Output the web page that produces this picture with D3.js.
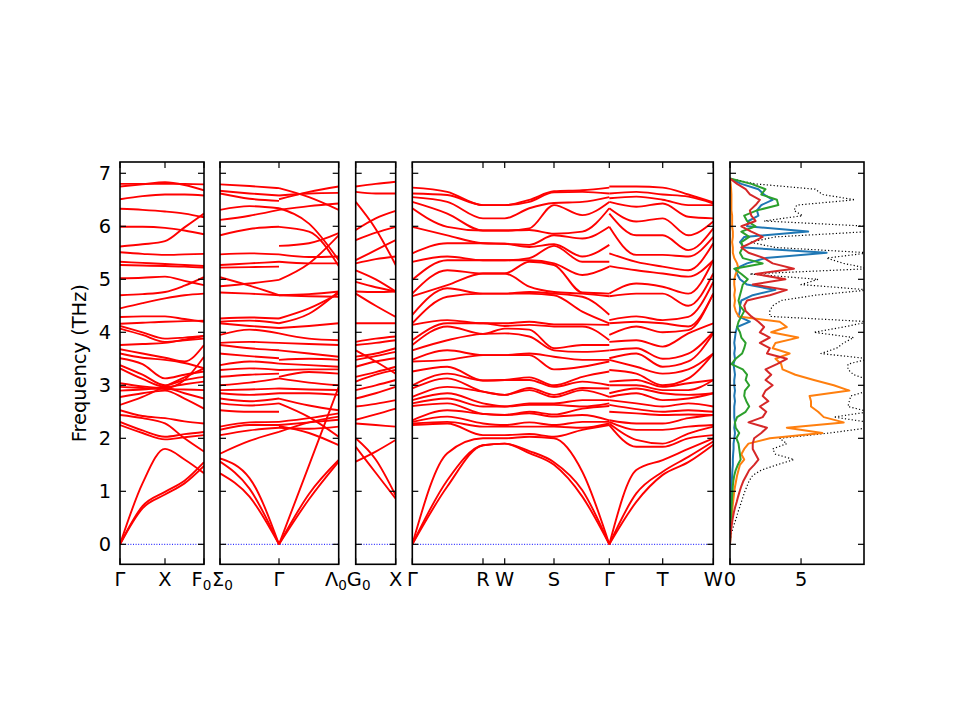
<!DOCTYPE html>
<html><head><meta charset="utf-8">
<script src="https://cdn.jsdelivr.net/npm/d3@7"></script>
<style>body{margin:0;background:#fff} text{font-family:"DejaVu Sans",sans-serif}</style>
</head><body><svg id="c" width="960" height="720"></svg>
<script>
// ---------------- DATA ----------------
const yTicks = [0,1,2,3,4,5,6,7];
const dosTicks = [0,5];
// panel 1 : Γ - X - F0   (path distance grid)
const p1Grid = [0, 22.5, 45, 64.5, 84];
const p1Labels = ["Γ","X","F_0"];
const p1LabelPos = [0,45,84];
const p1Bands = [
 [6.80,6.80,6.80,6.80,6.79],[6.75,6.79,6.83,6.78,6.68],[6.51,6.57,6.60,6.60,6.58],
 [6.33,6.31,6.28,6.24,6.17],[5.62,5.66,5.72,5.98,6.24],[5.99,5.99,5.97,5.92,5.85],
 [5.51,5.48,5.46,5.47,5.48],[5.33,5.31,5.29,5.27,5.25],[5.27,5.26,5.25,5.24,5.22],
 [5.02,5.03,5.05,4.97,4.89],[4.70,4.72,4.76,4.88,5.04],[4.45,4.55,4.64,4.70,4.73],
 [4.29,4.30,4.30,4.25,4.20],[4.16,4.18,4.20,4.21,4.22],[4.12,4.00,3.88,3.90,3.93],
 [4.07,3.95,3.82,3.85,3.88],[3.76,3.78,3.80,3.86,3.93],[3.68,3.60,3.52,3.45,3.76],
 [3.60,3.52,3.48,3.42,3.32],[3.51,3.40,3.13,3.20,3.26],[3.38,3.20,3.00,3.10,3.16],
 [3.32,3.12,2.97,3.02,3.07],[3.04,2.98,2.95,3.10,3.54],[2.97,2.95,2.93,2.92,2.91],
 [2.90,2.92,2.95,2.85,2.75],[2.78,2.85,2.90,2.75,2.56],[2.63,2.78,2.98,3.15,3.32],
 [2.53,2.42,2.38,2.32,2.28],[2.44,2.38,2.28,2.00,1.75],[2.31,2.15,2.03,2.08,2.12],
 [2.25,2.10,1.98,2.02,2.06],
 [0,1.15,1.80,1.60,1.34],[0,0.72,0.99,1.20,1.55],[0,0.68,0.94,1.15,1.48]
];
// panel 2 : Σ0 - Γ - Λ0  (Γ listed twice: left / right side)
const p2Grid = [0, 29.5, 59, 59, 89, 118.7];
const p2Labels = ["Σ_0","Γ","Λ_0"];
const p2LabelPos = [0,59,118.7];
const p2Bands = [
 [6.79,6.76,6.72,6.72,6.55,6.31],[6.67,6.62,6.58,6.58,6.62,6.63],[6.62,6.52,6.48,6.51,6.65,6.75],
 [6.31,6.38,6.34,6.34,6.05,5.36],[6.12,6.20,6.31,6.31,6.38,6.43],[5.83,5.95,5.99,5.99,5.90,5.25],
 [null,null,null,5.63,5.68,5.87],[5.47,5.49,5.47,5.47,5.42,5.43],[5.27,5.30,5.33,5.33,5.30,5.30],
 [5.22,5.23,5.24,null,null,null],[5.04,4.88,4.70,4.70,4.68,4.67],[4.87,4.92,4.99,4.99,5.30,5.83],
 [4.75,4.73,4.70,4.70,4.72,4.77],[4.26,4.28,4.26,4.26,4.45,4.73],[4.20,4.22,4.17,4.17,4.35,4.77],
 [4.17,4.12,4.08,4.08,4.12,4.17],[3.95,4.05,3.98,3.98,3.88,3.85],[3.80,3.82,3.80,3.80,3.78,3.76],
 [3.76,3.70,3.66,3.66,3.60,3.54],[3.60,3.55,3.51,3.48,3.50,3.48],[3.38,3.45,3.41,3.41,3.38,3.35],
 [3.29,3.32,3.29,3.29,3.30,3.30],[3.16,3.20,3.22,3.16,3.25,3.22],[3.00,3.05,3.13,3.13,3.05,3.00],
 [2.91,2.92,2.94,2.94,2.92,2.91],[2.85,2.82,2.85,2.85,2.85,2.82],[2.75,2.70,2.75,2.75,2.62,2.53],
 [2.66,2.62,2.66,2.66,2.40,2.03],[2.53,2.50,2.50,null,null,null],[2.22,2.30,2.31,2.31,2.38,2.47],
 [2.16,2.25,2.25,2.25,2.30,2.35],[2.06,2.15,2.20,2.20,2.18,2.22],[null,null,null,2.23,2.10,1.87],
 [1.71,1.95,2.12,2.12,2.30,2.41],
 [1.62,1.25,0,0,1.49,2.97],[1.56,1.05,0,0,0.95,1.59],[1.34,0.90,0,0,0.85,1.56]
];
// panel 3 : G0 - X
const p3Grid = [0, 20, 40];
const p3Labels = ["G_0","X"];
const p3LabelPos = [0,40];
const p3Bands = [
 [6.75,6.80,6.84],[6.65,6.62,6.62],[6.46,5.95,5.27],[5.93,6.15,6.29],[5.74,5.88,5.99],
 [5.36,5.55,5.74],[5.30,5.38,5.43],[5.17,5.00,4.77],[4.95,4.85,4.77],[4.77,4.76,4.77],
 [4.73,4.50,4.29],[4.17,4.17,4.17],[3.82,3.88,3.92],[3.76,3.80,3.85],[3.66,3.45,3.22],
 [3.54,3.60,3.70],[3.48,3.55,3.63],[3.35,3.45,3.51],[3.16,3.25,3.35],[3.07,3.20,3.29],
 [2.91,3.00,3.10],[2.75,2.85,2.97],[2.60,2.65,2.72],[2.35,2.45,2.56],[2.28,2.25,2.22],
 [2.00,1.60,0.92],[1.56,1.75,1.97],[1.84,1.35,0.86]
];
// panel 4 : Γ - R - W - S - Γ | Γ - T - W ; frequencies (ascending) at each grid point
const p4Grid = [0, 35, 70.7, 92.4, 117, 141.7, 170, 197, 197, 224, 250.4, 276, 301];
const p4Labels = ["Γ","R","W","S","Γ","T","W"];
const p4LabelPos = [0,70.7,92.4,141.7,197,250.4,301];
const p4Freqs = [
 [0,0,0,2.25,2.28,2.31,2.34,2.61,2.66,2.72,2.78,2.94,3.00,3.26,3.45,3.48,3.66,3.76,3.85,4.14,4.17,4.33,4.68,4.73,4.99,5.33,5.49,5.99,6.34,6.46,6.55,6.62,6.73],
 [1.09,1.21,1.72,2.28,2.31,2.41,2.53,2.66,2.75,2.85,2.97,3.13,3.22,3.35,3.48,3.66,3.85,4.11,4.17,4.23,4.67,4.83,4.89,5.17,5.36,5.43,5.68,5.83,5.99,6.24,6.46,6.59,6.65],
 [1.87,1.87,2.00,2.06,2.22,2.28,2.46,2.46,2.60,2.66,2.88,2.88,3.09,3.09,3.57,3.57,3.97,3.97,4.17,4.17,4.73,4.73,5.11,5.11,5.36,5.36,5.68,5.68,5.92,5.92,6.15,6.40,6.40],
 [1.90,1.90,2.00,2.06,2.22,2.25,2.44,2.44,2.60,2.60,2.82,2.82,3.10,3.10,3.57,3.57,3.98,4.07,4.12,4.17,4.73,4.73,5.11,5.11,5.36,5.36,5.67,5.67,5.92,5.92,6.15,6.40,6.40],
 [1.72,1.76,2.03,2.08,2.22,2.30,2.47,2.50,2.63,2.66,2.91,2.95,3.10,3.15,3.57,3.60,3.92,4.05,4.14,4.20,4.73,4.76,4.86,5.33,5.36,5.40,5.61,5.65,5.93,5.96,6.34,6.46,6.50],
 [1.50,1.55,2.00,2.03,2.22,2.25,2.41,2.45,2.63,2.66,2.78,2.82,2.97,3.00,3.30,3.54,3.66,3.70,4.11,4.15,4.70,4.73,4.76,5.27,5.30,5.63,5.66,5.83,5.86,6.40,6.44,6.64,6.66],
 [0.90,1.02,1.37,2.16,2.20,2.31,2.44,2.56,2.60,2.72,2.91,2.95,3.07,3.16,3.35,3.48,3.63,3.76,4.11,4.15,4.39,4.67,4.73,4.75,5.08,5.33,5.43,5.77,5.90,6.21,6.46,6.65,6.68],
 [0,0,0,2.25,2.28,2.31,2.34,2.61,2.66,2.72,2.78,2.94,3.00,3.26,3.45,3.48,3.66,3.76,3.85,4.14,4.17,4.33,4.68,4.73,5.24,5.33,5.65,5.99,6.34,6.46,6.55,6.62,6.73],
 [0,0,0,2.25,2.28,2.31,2.34,2.50,2.63,2.72,2.78,2.85,3.00,3.07,3.29,3.48,3.51,3.66,3.82,3.95,4.17,4.23,4.68,4.73,5.25,5.49,5.99,6.24,6.34,6.46,6.53,6.62,6.75],
 [0.80,0.96,1.40,1.84,1.97,2.16,2.28,2.47,2.55,2.66,2.85,2.94,3.00,3.10,3.22,3.35,3.60,3.70,3.85,4.11,4.20,4.30,4.73,4.92,5.17,5.33,5.46,5.83,6.09,6.37,6.56,6.65,6.75],
 [1.31,1.37,1.59,1.84,1.90,2.16,2.28,2.44,2.50,2.60,2.72,2.85,2.91,2.97,3.00,3.22,3.35,3.50,3.73,4.00,4.17,4.23,4.73,4.86,5.11,5.24,5.46,5.83,6.15,6.43,6.50,6.60,6.73],
 [1.55,1.65,1.80,2.00,2.09,2.22,2.38,2.45,2.53,2.66,2.75,2.82,2.91,3.04,3.13,3.30,3.45,3.60,3.98,4.04,4.11,4.29,4.50,4.73,5.05,5.17,5.43,5.55,5.83,6.18,6.40,6.56,6.60],
 [1.88,1.94,2.00,2.06,2.22,2.25,2.44,2.44,2.50,2.60,2.85,2.85,3.10,3.10,3.60,3.60,3.98,4.01,4.17,4.73,4.73,4.95,5.11,5.36,5.36,5.68,5.80,5.96,6.09,6.15,6.40,6.43,6.45]
];
// DOS (frequency grid in THz, and DOS values)
const dosFreq = [0.0,0.1,0.2,0.3,0.4,0.5,0.6,0.7,0.8,0.9,1.0,1.1,1.2,1.3,1.4,1.5,1.6,1.7,1.8,1.9,
 2.0,2.1,2.2,2.3,2.4,2.5,2.6,2.7,2.8,2.9,3.0,3.1,3.2,3.3,3.4,3.5,3.6,3.7,3.8,3.9,
 4.0,4.1,4.2,4.3,4.4,4.5,4.6,4.7,4.8,4.9,5.0,5.1,5.2,5.3,5.4,5.5,5.6,5.7,5.8,5.9,
 6.0,6.1,6.2,6.3,6.4,6.5,6.6,6.7,6.8,6.9];
const dosTotal = [0,0.03,0.1,0.2,0.32,0.45,0.55,0.68,0.8,0.92,
 1.05,1.2,1.35,1.6,2.2,3.3,4.5,3.2,3.0,4.0,
 3.5,7.0,9.8,9.8,7.3,9.8,8.3,8.4,8.5,9.8,
 9.8,9.8,8.7,8.3,8.3,9.8,6.4,7.5,8.0,8.7,
 5.9,8.0,9.8,2.8,2.8,3.0,3.6,6.0,9.8,5.0,
 6.2,1.4,9.8,8.0,6.8,9.8,3.2,1.4,3.2,9.8,
 9.8,2.4,5.1,4.5,4.7,8.8,6.5,6.0,1.8,0];
const dosBlue = [0,0.01,0.02,0.03,0.04,0.05,0.06,0.07,0.08,0.09,
 0.1,0.11,0.13,0.15,0.17,0.2,0.2,0.22,0.25,0.25,
 0.3,0.35,0.3,0.35,0.3,0.3,0.3,0.35,0.3,0.35,
 0.3,0.3,0.35,0.3,0.25,0.35,0.3,0.35,0.3,0.35,
 0.4,0.5,1.4,0.6,0.7,0.7,0.8,1.6,3.2,1.2,
 0.7,0.5,0.4,1.2,2.5,6.8,1.0,0.7,1.0,5.5,
 1.2,1.3,2.0,1.9,2.2,3.0,2.4,2.0,0.8,0];
const dosOrange = [0,0.02,0.04,0.06,0.09,0.12,0.15,0.18,0.22,0.26,
 0.3,0.36,0.43,0.5,0.6,0.7,1.0,0.8,1.0,1.3,
 2.8,6.5,4.0,8.0,6.6,6.2,5.7,5.7,5.6,8.4,
 7.3,5.9,4.6,3.7,3.6,3.2,4.2,3.0,3.2,4.8,
 2.9,4.0,3.5,0.6,0.4,0.3,0.35,0.3,0.35,0.3,
 0.3,0.4,0.6,0.5,0.3,0.2,0.2,0.15,0.2,0.2,
 0.15,0.15,0.15,0.1,0.1,0.1,0.1,0.08,0.05,0];
const dosGreen = [0,0.01,0.02,0.03,0.05,0.07,0.09,0.11,0.13,0.15,
 0.18,0.2,0.24,0.3,0.4,0.55,0.75,0.7,0.65,0.6,
 0.45,0.65,0.4,0.35,0.5,1.1,1.35,1.15,1.0,1.05,
 1.35,1.1,1.2,0.9,0.1,0.4,0.85,1.0,1.1,0.8,
 0.7,0.5,0.6,0.8,1.0,0.7,0.6,0.7,0.8,0.9,
 1.25,0.8,0.3,2.3,0.9,0.7,0.9,0.8,1.35,0.8,
 1.8,1.2,1.0,1.9,3.4,3.3,2.2,2.5,1.5,0];
const dosRed = [0,0.02,0.05,0.09,0.14,0.2,0.27,0.36,0.47,0.57,
 0.68,0.8,0.95,1.15,1.35,1.7,2.0,1.8,1.6,1.6,
 1.7,2.2,2.6,1.3,2.3,2.55,2.1,2.7,2.3,2.5,
 3.0,2.5,2.9,2.5,3.3,4.0,2.6,2.8,2.1,2.8,
 2.1,2.4,2.0,1.5,1.1,1.0,1.2,2.8,4.0,1.6,
 3.9,1.8,4.5,3.0,2.4,1.3,0.8,1.6,2.3,1.5,
 0.8,1.8,1.5,1.4,1.8,2.1,1.4,1.1,0.5,0];

// ---------------- LAYOUT ----------------
const svg = d3.select('#c');
const TOP = 162, BOT = 564.3, FS = 19.4;
const y = d3.scaleLinear().domain([-0.377, 7.213]).range([BOT, TOP]);

const p4Bands = d3.range(p4Freqs[0].length).map(i => p4Freqs.map(k => k[i]));
// labelShift: small horizontal nudges so that touching labels do not overlap
const panels = [
  {l:120,   r:204,   grid:p1Grid, bands:p1Bands, brk:null, labels:p1Labels, pos:p1LabelPos, shift:[0,0,-2.5]},
  {l:220,   r:338.7, grid:p2Grid, bands:p2Bands, brk:3,    labels:p2Labels, pos:p2LabelPos, shift:[2.5,0,-2.8]},
  {l:355.7, r:395.7, grid:p3Grid, bands:p3Bands, brk:null, labels:p3Labels, pos:p3LabelPos, shift:[3,0]},
  {l:412.3, r:713.3, grid:p4Grid, bands:p4Bands, brk:8,    labels:p4Labels, pos:p4LabelPos, shift:[0,0,0,0,0,0,0]}
];

function label(g, x, txt) {
  const parts = txt.split('_');
  const t = g.append('text').attr('x', x).attr('y', 586).attr('text-anchor','middle')
    .attr('font-size', FS).attr('fill','#000');
  t.append('tspan').text(parts[0]);
  if (parts[1] !== undefined) t.append('tspan').attr('font-size', FS*0.7).attr('dy', 4).text(parts[1]);
}

function frame(g, l, r) {
  g.append('rect').attr('x', l).attr('y', TOP).attr('width', r-l).attr('height', BOT-TOP)
    .attr('fill','none').attr('stroke','#000').attr('stroke-width',1.6);
}

panels.forEach((p, pi) => {
  const x = d3.scaleLinear().domain([0, p.grid[p.grid.length-1]]).range([p.l, p.r]);
  const g = svg.append('g');
  const cid = 'clip'+pi;
  svg.append('clipPath').attr('id', cid).append('rect')
    .attr('x', p.l).attr('y', TOP).attr('width', p.r-p.l).attr('height', BOT-TOP);
  const pg = g.append('g').attr('clip-path', `url(#${cid})`);
  pg.append('line').attr('x1', p.l).attr('x2', p.r).attr('y1', y(0)).attr('y2', y(0))
    .attr('stroke','#0000ff').attr('stroke-width',1).attr('stroke-dasharray','1,1.6');
  const line = d3.line().defined(d => d[1] != null).x(d => x(d[0])).y(d => y(d[1]))
    .curve(d3.curveMonotoneX);
  p.bands.forEach(b => {
    const pts = p.grid.map((gx, i) => [gx, b[i]]);
    const pieces = p.brk == null ? [pts] : [pts.slice(0, p.brk), pts.slice(p.brk)];
    pieces.forEach(pc => {
      const d = line(pc);
      if (d) pg.append('path').attr('d', d).attr('fill','none')
        .attr('stroke','#ff0000').attr('stroke-width',1.9).attr('stroke-linejoin','round');
    });
  });
  yTicks.forEach(t => {
    g.append('line').attr('x1', p.l).attr('x2', p.l+6).attr('y1', y(t)).attr('y2', y(t)).attr('stroke','#000').attr('stroke-width',1.2);
    g.append('line').attr('x1', p.r-6).attr('x2', p.r).attr('y1', y(t)).attr('y2', y(t)).attr('stroke','#000').attr('stroke-width',1.2);
  });
  p.pos.forEach((v, i) => {
    const xx = x(v);
    g.append('line').attr('x1', xx).attr('x2', xx).attr('y1', BOT).attr('y2', BOT-6).attr('stroke','#000').attr('stroke-width',1.2);
    g.append('line').attr('x1', xx).attr('x2', xx).attr('y1', TOP).attr('y2', TOP+6).attr('stroke','#000').attr('stroke-width',1.2);
    label(g, xx + p.shift[i], p.labels[i]);
  });
  frame(g, p.l, p.r);
  if (pi === 0) {
    yTicks.forEach(t => g.append('text').attr('x', 111).attr('y', y(t)).attr('dy','0.36em')
      .attr('text-anchor','end').attr('font-size', FS).text(t));
    svg.append('text').attr('transform', `translate(86,${(TOP+BOT)/2}) rotate(-90)`)
      .attr('text-anchor','middle').attr('font-size', FS).text('Frequency (THz)');
  }
});

// ---------------- DOS panel ----------------
const DL = 730, DR = 864;
const xd = d3.scaleLinear().domain([0, 9.43]).range([DL, DR]);
svg.append('clipPath').attr('id','clipd').append('rect')
  .attr('x', DL).attr('y', TOP).attr('width', DR-DL).attr('height', BOT-TOP);
const dg = svg.append('g');
const dp = dg.append('g').attr('clip-path','url(#clipd)');
const dline = d3.line().x(d => xd(d[0])).y(d => y(d[1]));
const series = [
  {v:dosTotal, c:'#000000', w:1.2, dash:'1.2,2.2'},
  {v:dosBlue, c:'#1f77b4', w:2},
  {v:dosOrange, c:'#ff7f0e', w:2},
  {v:dosGreen, c:'#2ca02c', w:2},
  {v:dosRed, c:'#d62728', w:2}
];
series.forEach(s => {
  dp.append('path').attr('d', dline(dosFreq.map((f, i) => [s.v[i], f])))
    .attr('fill','none').attr('stroke', s.c).attr('stroke-width', s.w)
    .attr('stroke-dasharray', s.dash || null).attr('stroke-linejoin','round');
});
yTicks.forEach(t => {
  dg.append('line').attr('x1', DL).attr('x2', DL+6).attr('y1', y(t)).attr('y2', y(t)).attr('stroke','#000').attr('stroke-width',1.2);
  dg.append('line').attr('x1', DR-6).attr('x2', DR).attr('y1', y(t)).attr('y2', y(t)).attr('stroke','#000').attr('stroke-width',1.2);
});
dosTicks.forEach(t => {
  const xx = xd(t);
  dg.append('line').attr('x1', xx).attr('x2', xx).attr('y1', BOT).attr('y2', BOT-6).attr('stroke','#000').attr('stroke-width',1.2);
  dg.append('line').attr('x1', xx).attr('x2', xx).attr('y1', TOP).attr('y2', TOP+6).attr('stroke','#000').attr('stroke-width',1.2);
  dg.append('text').attr('x', xx).attr('y', 586).attr('text-anchor','middle').attr('font-size', FS).text(t);
});
frame(dg, DL, DR);
</script></body></html>
